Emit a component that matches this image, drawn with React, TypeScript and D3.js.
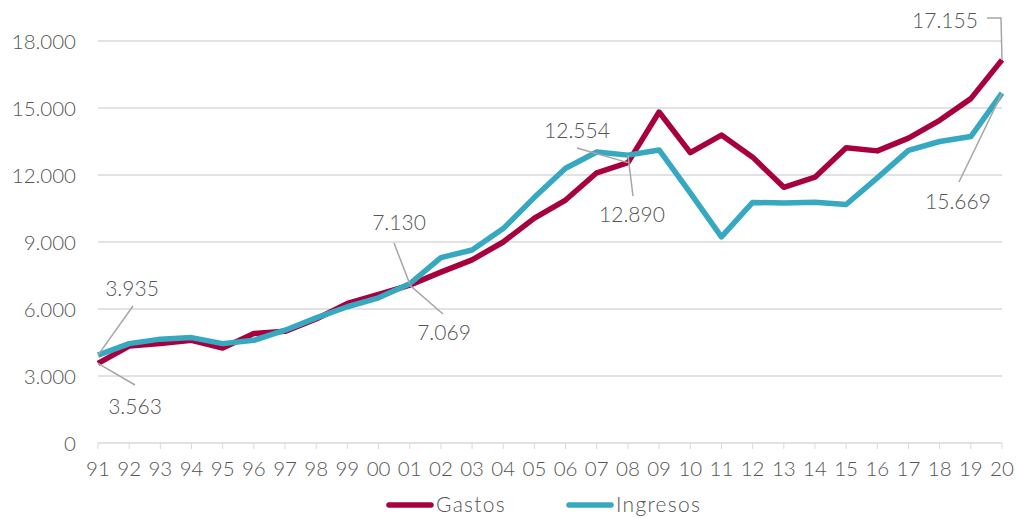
import { useEffect, useRef } from "react";
import * as d3 from "d3";

const years = ["91", "92", "93", "94", "95", "96", "97", "98", "99", "00", "01", "02", "03", "04", "05", "06", "07", "08", "09", "10", "11", "12", "13", "14", "15", "16", "17", "18", "19", "20"];
const gastos = [3563, 4340, 4450, 4600, 4250, 4900, 5000, 5550, 6250, 6650, 7069, 7650, 8200, 9000, 10070, 10880, 12100, 12554, 14820, 13000, 13790, 12800, 11450, 11900, 13220, 13080, 13650, 14450, 15420, 17155];
const ingresos = [3935, 4450, 4650, 4720, 4450, 4600, 5050, 5600, 6100, 6500, 7130, 8300, 8640, 9600, 11000, 12300, 13030, 12890, 13120, 11200, 9230, 10770, 10750, 10780, 10680, 11870, 13100, 13500, 13720, 15669];
const yTicks = [0, 3000, 6000, 9000, 12000, 15000, 18000];

const RED = "#A8003F";
const CYAN = "#36A8C0";
const TXT = "#555555";
const FONT = "Lato, 'Open Sans', sans-serif";

const fmt = (v: number) => d3.format(",")(v).replace(/,/g, ".");

export default function App() {
    const svgRef = useRef<SVGSVGElement>(null);

    useEffect(() => {
        if (!svgRef.current) return;
        const svg = d3.select(svgRef.current);
        svg.selectAll("*").remove();

        const x = d3.scalePoint<string>().domain(years).range([98, 1002]);
        const y = d3.scaleLinear().domain([0, 18000]).range([443, 41]);

        // gridlines
        svg.append("g")
            .selectAll("line")
            .data(yTicks)
            .enter()
            .append("line")
            .attr("x1", 98)
            .attr("x2", 1002)
            .attr("y1", d => y(d))
            .attr("y2", d => y(d))
            .style("stroke", "#D9D9D9")
            .style("stroke-width", 1.5);

        // x tick marks
        svg.append("g")
            .selectAll("line")
            .data(years)
            .enter()
            .append("line")
            .attr("x1", d => x(d)!)
            .attr("x2", d => x(d)!)
            .attr("y1", y(0))
            .attr("y2", y(0) + 6)
            .style("stroke", "#D9D9D9")
            .style("stroke-width", 1);

        // y labels
        svg.append("g")
            .selectAll("text")
            .data(yTicks)
            .enter()
            .append("text")
            .attr("x", 76)
            .attr("y", d => y(d) + 7.5)
            .attr("text-anchor", "end")
            .style("fill", TXT)
            .style("font-size", "20.5px")
            .style("font-weight", 300)
            .style("font-family", FONT)
            .text(d => fmt(d));

        // x labels
        svg.append("g")
            .selectAll("text")
            .data(years)
            .enter()
            .append("text")
            .attr("x", d => x(d)!)
            .attr("y", 476)
            .attr("text-anchor", "middle")
            .style("fill", TXT)
            .style("font-size", "20.5px")
            .style("font-weight", 300)
            .style("font-family", FONT)
            .text(d => d);

        const line = d3.line<number>()
            .x((_, i) => x(years[i])!)
            .y(d => y(d));

        svg.append("path")
            .datum(gastos)
            .attr("d", line)
            .style("fill", "none")
            .style("stroke", RED)
            .style("stroke-width", 5.5)
            .style("stroke-linejoin", "round");

        svg.append("path")
            .datum(ingresos)
            .attr("d", line)
            .style("fill", "none")
            .style("stroke", CYAN)
            .style("stroke-width", 5.5)
            .style("stroke-linejoin", "round");

        // data labels with leader lines
        const labels = [
            { i: 0, v: ingresos[0], pts: [[133, 306]], tx: 132, ty: 295.5 },
            { i: 0, v: gastos[0], pts: [[135, 385]], tx: 135, ty: 413.5 },
            { i: 10, v: ingresos[10], pts: [[394, 243]], tx: 399, ty: 229.5 },
            { i: 10, v: gastos[10], pts: [[443, 314]], tx: 444, ty: 340 },
            { i: 17, v: gastos[17], pts: [[577, 148]], tx: 577, ty: 137.5 },
            { i: 17, v: ingresos[17], pts: [[633, 196]], tx: 632, ty: 222 },
            { i: 29, v: gastos[29], pts: [[1001, 18], [987, 18]], tx: 945, ty: 27.5 },
            { i: 29, v: ingresos[29], pts: [[959, 182]], tx: 958, ty: 209 },
        ];

        labels.forEach(l => {
            const px = x(years[l.i])!;
            const py = y(l.v);
            const path = d3.path();
            path.moveTo(px, py);
            l.pts.forEach(p => path.lineTo(p[0], p[1]));
            svg.append("path")
                .attr("d", path.toString())
                .style("fill", "none")
                .style("stroke", "#A6A6A6")
                .style("stroke-width", 1.5);
            svg.append("text")
                .attr("x", l.tx)
                .attr("y", l.ty)
                .attr("text-anchor", "middle")
                .style("fill", TXT)
                .style("font-size", "21px")
                .style("font-weight", 300)
                .style("font-family", FONT)
                .text(fmt(l.v));
        });

        // legend
        const legendItems = [
            { label: "Gastos", color: RED, x: 387 },
            { label: "Ingresos", color: CYAN, x: 567 },
        ];
        legendItems.forEach(item => {
            svg.append("line")
                .attr("x1", item.x + 2)
                .attr("x2", item.x + 44)
                .attr("y1", 505)
                .attr("y2", 505)
                .style("stroke", item.color)
                .style("stroke-width", 5.5)
                .style("stroke-linecap", "round");
            svg.append("text")
                .attr("x", item.x + 49)
                .attr("y", 512)
                .style("fill", TXT)
                .style("font-size", "21px")
                .style("font-weight", 300)
                .style("letter-spacing", "1.3px")
                .style("font-family", FONT)
                .text(item.label);
        });
    }, []);

    return (
        <svg
            ref={svgRef}
            width={1016}
            height={518}
            style={{ position: "absolute", left: 0, top: 0, background: "#fff" }}
        />
    );
}
